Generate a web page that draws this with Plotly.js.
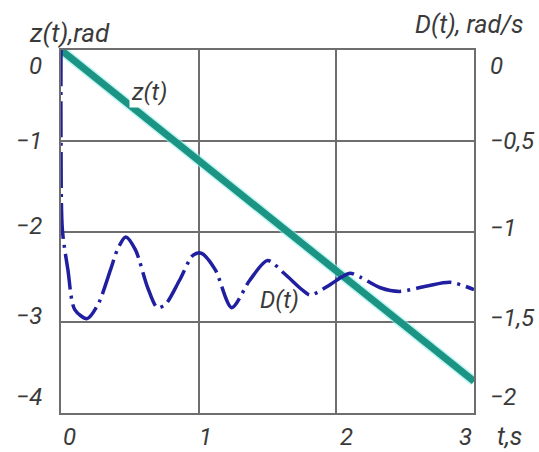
<!DOCTYPE html>
<html>
<head>
<meta charset="utf-8">
<script src="https://cdn.plot.ly/plotly-3.0.1.min.js"></script>
<style>html,body{margin:0;padding:0;background:#fff;}#chart{width:539px;height:452px;}</style>
</head>
<body>
<div id="chart"></div>
<script>
// z(t) line, rad (left axis)
var tZ = [0, 1, 2, 3];
var zVals = [0, -1.21, -2.43, -3.65];

// D(t) curve, rad/s (right axis)
var tD = [0, 0, 0.01, 0.05, 0.10, 0.19, 0.27, 0.36, 0.41, 0.47, 0.54, 0.63, 0.70, 0.76, 0.86, 0.96, 1.02, 1.12, 1.24, 1.37, 1.50, 1.62, 1.75, 1.81, 1.94, 2.04, 2.10, 2.17, 2.32, 2.46, 2.66, 2.83, 3.0];
var dVals = [0, -0.5, -0.99, -1.21, -1.43, -1.48, -1.40, -1.21, -1.10, -1.03, -1.10, -1.31, -1.42, -1.40, -1.27, -1.13, -1.12, -1.21, -1.42, -1.27, -1.16, -1.23, -1.32, -1.35, -1.30, -1.25, -1.23, -1.25, -1.31, -1.33, -1.30, -1.28, -1.32];

// tick labels
var xTickVals = [0, 1, 2, 3];
var xTickText = ["0", "1", "2", "3"];
var yTickVals = [0, -1, -2, -3, -4];
var yTickText = ["0", "\u22121", "\u22122", "\u22123", "\u22124"];
var y2TickVals = [0, -0.5, -1, -1.5, -2];
var y2TickText = ["0", "\u22120,5", "\u22121", "\u22121,5", "\u22122"];

var FONT = "Roboto, sans-serif";
var TXT = "#3a3a3a";
var GRID = "#6e6e6e";

var traces = [
  {x: tZ, y: zVals, mode: "lines", line: {color: "rgba(150,238,238,0.6)", width: 10}, hoverinfo: "skip", showlegend: false},
  {x: tZ, y: zVals, mode: "lines", line: {color: "#1c9484", width: 7}, name: "z(t)", showlegend: false},
  {x: tD, y: dVals, yaxis: "y2", mode: "lines", line: {color: "#1f1fa0", width: 3.5, shape: "spline", smoothing: 0.8, dash: "36px,6px,3px,6px"}, name: "D(t)", showlegend: false}
];

function tf(size) { return {family: FONT, size: size, color: TXT, style: "italic"}; }

var annotations = [];
// x tick labels (first left-aligned, last right-aligned as in the drawing)
xTickVals.forEach(function (v, i) {
  var n = xTickVals.length - 1;
  annotations.push({text: xTickText[i], x: v, xref: "x", y: -0.066, yref: "paper",
    xanchor: i === 0 ? "left" : (i === n ? "right" : "center"), yanchor: "middle",
    xshift: (i > 0 && i < n) ? 4 + 3 * i : 0,
    showarrow: false, font: tf(24)});
});
// left axis tick labels
yTickVals.forEach(function (v, i) {
  var n = yTickVals.length - 1;
  annotations.push({text: yTickText[i], x: -0.041, xref: "paper", y: v, yref: "y",
    xanchor: "right", yanchor: i === 0 ? "top" : (i === n ? "bottom" : "middle"),
    yshift: (i > 1 && i < n) ? 6 : 0,
    showarrow: false, font: tf(24)});
});
// right axis tick labels
y2TickVals.forEach(function (v, i) {
  var n = y2TickVals.length - 1;
  annotations.push({text: y2TickText[i], x: 1.034, xref: "paper", y: v, yref: "y2",
    xanchor: "left", yanchor: i === 0 ? "top" : (i === n ? "bottom" : "middle"),
    yshift: (i > 1 && i < n) ? 4 : 0,
    showarrow: false, font: tf(24)});
});
annotations.push(
  {text: "z(t)", x: 0.64, y: -0.46, xref: "x", yref: "y", showarrow: false, bgcolor: "#fff", borderpad: 1,
   xanchor: "center", yanchor: "middle", font: tf(24)},
  {text: "D(t)", x: 1.59, y: -2.75, xref: "x", yref: "y", showarrow: false,
   xanchor: "center", yanchor: "middle", font: tf(24)},
  {text: "z(t),rad", x: 0.02, y: 1.047, xref: "paper", yref: "paper", showarrow: false,
   xanchor: "center", yanchor: "middle", font: tf(26)},
  {text: "D(t), rad/s", x: 0.99, y: 1.069, xref: "paper", yref: "paper", showarrow: false,
   xanchor: "center", yanchor: "middle", font: tf(25)},
  {text: "t,s", x: 1.087, y: -0.066, xref: "paper", yref: "paper", showarrow: false,
   xanchor: "center", yanchor: "middle", font: tf(25)}
);

var layout = {
  width: 539, height: 452,
  margin: {l: 61, r: 65, t: 50, b: 39, pad: 0},
  paper_bgcolor: "#fff", plot_bgcolor: "#fff",
  showlegend: false,
  xaxis: {
    range: [0, 3], tickvals: xTickVals, showticklabels: false,
    showgrid: true, gridcolor: GRID, gridwidth: 2,
    showline: true, mirror: true, linecolor: GRID, linewidth: 2,
    zeroline: false, ticks: "", fixedrange: true, layer: "below traces"
  },
  yaxis: {
    range: [-4, 0], tickvals: yTickVals, showticklabels: false,
    showgrid: true, gridcolor: GRID, gridwidth: 2,
    showline: true, mirror: true, linecolor: GRID, linewidth: 2,
    zeroline: false, ticks: "", fixedrange: true, layer: "below traces"
  },
  yaxis2: {
    range: [-2, 0], overlaying: "y", side: "right",
    tickvals: y2TickVals, showticklabels: false,
    showgrid: false, zeroline: false, showline: false, ticks: "", fixedrange: true,
    layer: "below traces"
  },
  annotations: annotations
};

Plotly.newPlot("chart", traces, layout, {displayModeBar: false, staticPlot: true});
</script>
</body>
</html>
